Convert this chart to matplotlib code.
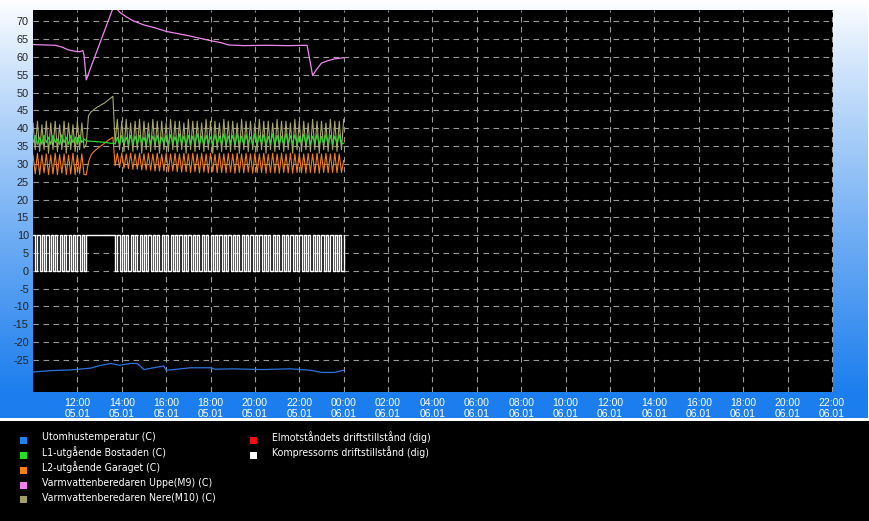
import numpy as np
import matplotlib
matplotlib.use('Agg')
import matplotlib.pyplot as plt
from matplotlib import font_manager as fm
from matplotlib.patches import Rectangle

# ---------------- data ----------------
T0 = 10.0      # hours since 00:00 05.01, first sample of the regular series
STEP = 0.1     # hours between samples of the regular series

olive_m10 = [
    41.5, 34.0, 42.0, 33.5, 41.0, 34.0, 42.0, 33.0,
    41.5, 34.0, 42.0, 33.5, 41.0, 34.0, 42.0, 33.0,
    41.5, 34.0, 41.0, 33.5, 42.0, 34.0, 41.5, 34.5,
    35.5, 43.5, 44.5, 45.0, 45.5, 46.0, 46.3, 46.7, 47.0, 47.5, 48.0, 48.5, 49.0,
    36.0, 42.5, 34.0, 42.0, 33.5, 42.5, 34.0, 41.5,
    33.5, 42.0, 34.0, 42.5, 33.0, 42.0, 34.0, 41.5,
    33.5, 42.5, 34.0, 42.0, 33.0, 42.0, 34.0, 41.5,
    33.5, 42.5, 34.0, 42.0, 33.5, 42.0, 34.0, 41.5,
    33.0, 42.5, 34.0, 42.0, 33.5, 42.0, 34.0, 41.5,
    33.5, 42.5, 34.0, 42.0, 33.0, 42.0, 34.0, 41.5,
    33.5, 42.5, 34.0, 42.0, 33.5, 42.0, 34.0, 41.5,
    33.0, 42.5, 34.0, 42.0, 33.5, 42.0, 34.0, 41.5,
    33.5, 42.5, 34.0, 42.0, 33.0, 42.0, 34.0, 41.5,
    33.5, 42.5, 34.0, 42.0, 33.5, 42.0, 34.0, 41.5,
    33.0, 42.5, 34.0, 42.0, 33.5, 42.0, 34.0, 41.5,
    33.5, 42.5, 34.0, 42.0, 33.0, 42.0, 34.0, 41.5,
    33.5, 42.5, 34.0, 42.0, 33.5, 42.0, 34.0, 42.5,
]

green_l1 = [
    36.0, 38.0, 35.5, 37.5, 35.5, 38.0, 36.0, 37.5,
    35.5, 38.0, 36.0, 37.0, 35.5, 38.2, 36.0, 37.5,
    35.5, 38.0, 36.0, 37.5, 35.5, 38.0, 36.0, 37.0,
    36.5, 36.4, 36.4, 36.3, 36.3, 36.2, 36.2, 36.1, 36.1, 36.0, 35.9, 35.8, 35.8,
    35.6, 37.5, 35.5, 38.0, 35.8, 37.5, 35.5, 38.0,
    35.6, 37.8, 35.5, 38.0, 36.0, 37.5, 35.5, 38.3,
    35.6, 37.8, 35.8, 38.0, 35.5, 37.5, 35.8, 38.0,
    35.5, 38.2, 35.8, 37.6, 35.5, 38.4, 35.8, 37.8,
    35.6, 38.0, 35.5, 37.8, 35.9, 38.5, 35.6, 37.8,
    35.5, 38.0, 35.8, 37.6, 35.5, 38.3, 35.7, 37.8,
    35.6, 38.5, 35.5, 37.8, 35.9, 38.0, 35.5, 38.4,
    35.7, 37.8, 35.5, 38.2, 35.8, 37.6, 35.5, 38.5,
    35.6, 37.9, 35.8, 38.2, 35.5, 37.7, 35.8, 38.4,
    35.5, 38.0, 35.7, 37.8, 35.5, 38.5, 35.8, 37.9,
    35.6, 38.2, 35.5, 37.8, 35.9, 38.4, 35.6, 38.0,
    35.5, 37.8, 35.8, 38.3, 35.5, 37.7, 35.8, 38.2,
    35.6, 38.0, 35.5, 37.8, 35.8, 38.2, 35.6, 35.8,
]

orange_l2 = [
    32.5, 27.2, 33.0, 27.0, 32.5, 27.5, 32.8, 27.0,
    32.5, 27.2, 33.0, 27.0, 32.6, 27.4, 32.8, 27.0,
    32.5, 27.2, 33.0, 27.0, 32.5, 27.3, 32.8, 27.0,
    27.0, 30.5, 32.3, 33.2, 33.8, 34.3, 34.8, 35.2, 35.7, 36.2, 36.7, 37.1, 37.5,
    29.5, 33.0, 29.0, 33.0, 28.8, 32.8, 28.7, 33.0,
    28.5, 32.8, 28.5, 33.0, 28.3, 32.8, 28.3, 33.0,
    28.2, 32.8, 28.0, 33.0, 28.0, 32.7, 28.0, 33.0,
    27.8, 32.8, 28.0, 33.0, 27.8, 32.8, 27.7, 33.0,
    27.8, 32.8, 27.6, 33.0, 27.8, 32.8, 27.5, 33.0,
    27.7, 32.8, 27.5, 33.0, 27.8, 32.7, 27.5, 33.0,
    27.6, 32.8, 27.5, 33.0, 27.7, 32.8, 27.4, 33.0,
    27.6, 32.8, 27.5, 33.0, 27.7, 32.8, 27.4, 33.0,
    27.5, 32.8, 27.6, 33.0, 27.4, 32.7, 27.6, 33.0,
    27.5, 32.8, 27.4, 33.0, 27.6, 32.8, 27.5, 33.0,
    27.4, 32.8, 27.6, 33.0, 27.5, 32.8, 27.4, 33.0,
    27.6, 32.8, 27.5, 33.0, 27.4, 32.8, 27.6, 33.0,
    27.5, 32.8, 27.6, 33.0, 27.5, 32.8, 27.6, 31.0,
]

compressor = [
    10, 0, 10, 0, 10, 0, 10, 0,
    10, 0, 10, 0, 10, 0, 10, 0,
    10, 0, 10, 0, 10, 0, 10, 0,
    10, 10, 10, 10, 10, 10, 10, 10, 10, 10, 10, 10, 10,
    0, 10, 0, 10, 0, 10, 0, 10,
    0, 10, 0, 10, 0, 10, 0, 10,
    0, 10, 0, 10, 0, 10, 0, 10,
    0, 10, 0, 10, 0, 10, 0, 10,
    0, 10, 0, 10, 0, 10, 0, 10,
    0, 10, 0, 10, 0, 10, 0, 10,
    0, 10, 0, 10, 0, 10, 0, 10,
    0, 10, 0, 10, 0, 10, 0, 10,
    0, 10, 0, 10, 0, 10, 0, 10,
    0, 10, 0, 10, 0, 10, 0, 10,
    0, 10, 0, 10, 0, 10, 0, 10,
    0, 10, 0, 10, 0, 10, 0, 10,
    0, 10, 0, 10, 0, 10, 0, 10,
]

pink_t = [10.0, 10.5, 11.0, 11.3, 11.6, 11.9, 12.1, 12.25, 12.3, 12.4, 12.6, 12.9,
          13.2, 13.5, 13.65, 13.9, 14.2, 14.5, 15.0, 15.5, 16.0, 16.5, 17.0, 17.5,
          18.0, 18.5, 18.8, 19.5, 20.5, 21.5, 22.35, 22.45, 22.6, 22.75, 23.0, 23.3,
          23.6, 24.0]
pink_m9 = [63.5, 63.4, 63.3, 62.8, 62.0, 61.6, 61.5, 61.8, 60.5, 53.6, 57.0, 62.0,
           67.0, 72.0, 74.5, 72.6, 71.3, 70.2, 69.0, 68.2, 67.2, 66.6, 66.0, 65.3,
           64.6, 64.0, 63.4, 63.2, 63.3, 63.2, 63.3, 60.0, 54.8, 56.3, 58.3, 59.0,
           59.5, 59.8]

blue_t = [10.0, 10.8, 11.7, 12.6, 13.0, 13.5, 13.9, 14.4, 14.7, 15.0, 15.7, 15.9,
          16.0, 17.1, 18.0, 18.2, 19.0, 20.3, 21.6, 22.5, 23.0, 23.6, 24.0]
blue_out = [-28.4, -28.0, -27.8, -27.3, -26.6, -26.0, -26.5, -26.0, -26.0, -27.7, -26.9, -26.7,
            -27.9, -27.2, -27.2, -27.6, -27.5, -27.7, -27.5, -27.9, -28.5, -28.5, -27.9]

legend_labels = ['Utomhustemperatur (C)', 'L1-utgående Bostaden (C)', 'L2-utgående Garaget (C)',
                 'Varmvattenberedaren Uppe(M9) (C)', 'Varmvattenberedaren Nere(M10) (C)',
                 'Elmotståndets driftstillstånd (dig)', 'Kompressorns driftstillstånd (dig)']
legend_colors = ['#1E82F0', '#22E022', '#FF8010', '#F080F0', '#A0A060', '#F01010', '#FFFFFF']

x_ticks = list(range(12, 47, 2))
y_ticks = list(range(-25, 71, 5))

# ---------------- figure ----------------
W, H = 870, 521
fig = plt.figure(figsize=(W / 100, H / 100), dpi=100, facecolor='white')


def px_axes(x0, y0, x1, y1):
    return fig.add_axes([x0 / W, 1 - y1 / H, (x1 - x0) / W, (y1 - y0) / H])


def has_font(name):
    try:
        fm.findfont(fm.FontProperties(family=name), fallback_to_default=False)
        return True
    except Exception:
        return False


tick_font = 'Liberation Sans' if has_font('Liberation Sans') else 'DejaVu Sans'

# look for a narrow/condensed face for the legend
leg_prop = None
leg_size = 8.5
for f in fm.fontManager.ttflist:
    if 'Narrow' in f.name and 'Liberation' in f.name and f.weight in (400, 'normal', 'regular') \
            and f.style == 'normal':
        leg_prop = fm.FontProperties(fname=f.fname)
        break
if leg_prop is None:
    for f in fm.fontManager.ttflist:
        if f.name == 'DejaVu Sans' and 'condensed' in str(f.stretch).lower() and f.style == 'normal' \
                and f.weight in (400, 'normal', 'regular'):
            leg_prop = fm.FontProperties(fname=f.fname)
            leg_size = 7.6
            break
if leg_prop is None:
    leg_prop = fm.FontProperties(family=tick_font)
    leg_size = 7.6

# gradient background
bg = px_axes(0, 0, 868, 418)
n = 418
rows = np.arange(n)
frac = np.clip(rows / 392.0, 0, 1) ** 0.9
top = np.array([1.0, 1.0, 1.0])
bot = np.array([28, 126, 238]) / 255.0
grad = top[None, :] * (1 - frac[:, None]) + bot[None, :] * frac[:, None]
bg.imshow(grad[:, None, :], aspect='auto', extent=(0, 1, 0, 1), origin='upper')
bg.set_axis_off()

# legend area
lg = px_axes(0, 421, 870, 521)
lg.set_xlim(0, 870)
lg.set_ylim(521, 421)
lg.set_axis_off()
lg.add_patch(Rectangle((0, 421), 870, 100, facecolor='black', edgecolor='none'))
rows_y = [437.5, 452.5, 467.5, 482.5, 497.0]
positions = [(20, rows_y[i]) for i in range(5)] + [(250, rows_y[0]), (250, rows_y[1])]
for (mx, my), lab, col in zip(positions, legend_labels, legend_colors):
    lg.add_patch(Rectangle((mx, my - 1.0), 7, 7, facecolor=col, edgecolor='none'))
    lg.text(mx + 22, my, lab, color='white', fontproperties=leg_prop, fontsize=leg_size,
            va='center', ha='left')

# main plot
ax = px_axes(33, 10, 833, 392)
ax.set_facecolor('black')
for s in ax.spines.values():
    s.set_visible(False)
ax.set_xlim(10.0, 46.05)
ax.set_ylim(-34.0, 73.2)
ax.set_axisbelow(True)
ax.grid(True, color='#9a9a9a', linestyle=(0, (5, 4)), linewidth=0.8)

ax.set_xticks(x_ticks)
ax.set_xticklabels([f"{h % 24:02d}:00\n{'05.01' if h < 24 else '06.01'}" for h in x_ticks])
ax.set_yticks(y_ticks)
ax.set_yticklabels([str(v) for v in y_ticks])
ax.tick_params(axis='x', length=0, pad=4, labelsize=7.5, labelcolor='white')
ax.tick_params(axis='y', length=0, pad=3, labelsize=7.8, labelcolor='#222222')
for lab in ax.get_xticklabels() + ax.get_yticklabels():
    lab.set_family(tick_font)


def tgrid(series):
    return T0 + STEP * np.arange(len(series))


ax.plot(tgrid(olive_m10), olive_m10, color='#A8A868', lw=0.8, zorder=3)
ax.plot(tgrid(orange_l2), orange_l2, color='#F08020', lw=0.8, zorder=4)
ax.plot(tgrid(green_l1), green_l1, color='#33D633', lw=0.9, zorder=5)
ax.plot(pink_t, pink_m9, color='#EE88EE', lw=0.9, zorder=6)
ax.plot(blue_t, blue_out, color='#2C74DC', lw=0.9, zorder=6)
ax.plot(tgrid(compressor), compressor, color='white', lw=1.0, drawstyle='steps-post', zorder=7)

fig.savefig('out.png', dpi=100, facecolor=fig.get_facecolor())
